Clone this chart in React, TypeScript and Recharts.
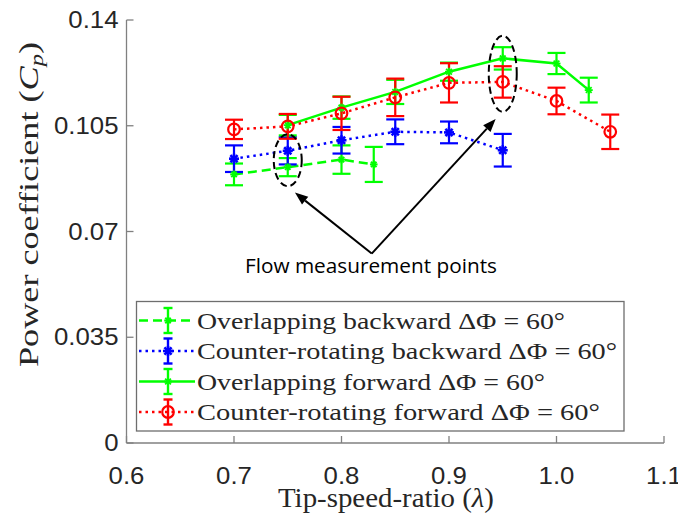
import React from "react";
import { LineChart, Line, XAxis, YAxis, ErrorBar, ReferenceDot, ReferenceLine, Customized } from "recharts";

// tip-speed-ratio / power coefficient / error
const lambdaOB = [0.7, 0.75, 0.8, 0.83];
const cpOB = [0.0889, 0.0913, 0.0938, 0.0922];
const errOB = [0.0036, 0.003, 0.0047, 0.0058];

const lambdaCB = [0.7, 0.75, 0.8, 0.85, 0.9, 0.95];
const cpCB = [0.0941, 0.0967, 0.1002, 0.103, 0.1028, 0.0969];
const errCB = [0.0044, 0.0045, 0.0044, 0.0041, 0.0036, 0.0054];

const lambdaOF = [0.75, 0.8, 0.85, 0.9, 0.95, 1.0, 1.03];
const cpOF = [0.1052, 0.111, 0.1162, 0.1229, 0.1273, 0.1256, 0.1168];
const errOF = [0.0034, 0.0037, 0.004, 0.003, 0.0037, 0.0035, 0.0041];

const lambdaCF = [0.7, 0.75, 0.8, 0.85, 0.9, 0.95, 1.0, 1.05];
const cpCF = [0.1038, 0.1048, 0.1091, 0.1144, 0.1192, 0.1195, 0.1132, 0.103];
const errCF = [0.0032, 0.0041, 0.0055, 0.0062, 0.0065, 0.0052, 0.0044, 0.0057];

const xTicks = [0.6, 0.7, 0.8, 0.9, 1.0, 1.1];
const yTicks = [0, 0.035, 0.07, 0.105, 0.14];

const seriesNames = [
  "Overlapping backward ΔΦ = 60°",
  "Counter-rotating backward ΔΦ = 60°",
  "Overlapping forward ΔΦ = 60°",
  "Counter-rotating forward ΔΦ = 60°",
];
const noteText = "Flow measurement points";

const toRows = (xs: number[], ys: number[], es: number[]) =>
  xs.map((x, i) => ({ x, y: ys[i], e: es[i] }));

const dataOB = toRows(lambdaOB, cpOB, errOB);
const dataCB = toRows(lambdaCB, cpCB, errCB);
const dataOF = toRows(lambdaOF, cpOF, errOF);
const dataCF = toRows(lambdaCF, cpCF, errCF);

const GREEN = "#00ff00";
const BLUE = "#0000ff";
const RED = "#ff0000";
const TEXT = "#262626";

const legendWidths = [368, 420, 348, 403];

const Star = ({ cx, cy, r, color, sw }: any) => {
  const d = r * 0.72;
  return (
    <g stroke={color} strokeWidth={sw}>
      <line x1={cx - r} y1={cy} x2={cx + r} y2={cy} />
      <line x1={cx} y1={cy - r} x2={cx} y2={cy + r} />
      <line x1={cx - d} y1={cy - d} x2={cx + d} y2={cy + d} />
      <line x1={cx - d} y1={cy + d} x2={cx + d} y2={cy - d} />
    </g>
  );
};

const Ring = ({ cx, cy }: any) => (
  <circle cx={cx} cy={cy} r={5.8} fill="none" stroke={RED} strokeWidth={2.2} />
);

const markers = [
  (p: any) => <Star {...p} r={3.8} color={GREEN} sw={2} />,
  (p: any) => <Star {...p} r={5} color={BLUE} sw={2.6} />,
  (p: any) => <Star {...p} r={4} color={GREEN} sw={1.8} />,
  (p: any) => <Ring {...p} />,
];
const colors = [GREEN, BLUE, GREEN, RED];
const dashes = ["9 5", "2.5 4", undefined, "2.5 4"];

const dotFor = (i: number) => (p: any) =>
  <g key={`m${i}-${p.index}`}>{markers[i]({ cx: p.cx, cy: p.cy })}</g>;

const textLen = (s: string, size: number) =>
  s.split("").reduce((a, c) => a + (c === "." ? 0.278 : 0.556), 0) * size * 1.12;

const YTick = (props: any) => {
  const s = String(props.payload.value);
  return (
    <text x={props.x - 13} y={props.y + 8} textAnchor="end" fontSize={23}
      fontFamily="Liberation Sans" fill={TEXT} textLength={textLen(s, 23)} lengthAdjust="spacingAndGlyphs">
      {s}
    </text>
  );
};

const XTick = (props: any) => {
  const s = props.payload.value.toFixed(1);
  return (
    <text x={props.x} y={props.y + 46} textAnchor="middle" fontSize={23}
      fontFamily="Liberation Sans" fill={TEXT} textLength={textLen(s, 23)} lengthAdjust="spacingAndGlyphs">
      {s}
    </text>
  );
};

const Arrow = (props: any) => {
  const { x1, y1, x2, y2 } = props;
  const a = Math.atan2(y2 - y1, x2 - x1);
  const L = 13, W = 5;
  const bx = x2 - L * Math.cos(a), by = y2 - L * Math.sin(a);
  const px = -Math.sin(a) * W, py = Math.cos(a) * W;
  return (
    <g>
      <line x1={x1} y1={y1} x2={bx} y2={by} stroke="#000" strokeWidth={2} />
      <polygon points={`${x2},${y2} ${bx + px},${by + py} ${bx - px},${by - py}`} fill="#000" />
    </g>
  );
};

const Oval = (ry: number) => (p: any) => (
  <ellipse cx={p.cx} cy={p.cy} rx={14} ry={ry} fill="none" stroke="#000" strokeWidth={2} strokeDasharray="7 4" />
);

const Note = (p: any) => (
  <text x={p.cx} y={p.cy} textAnchor="middle" fontSize={20} fontFamily="Open Sans" fill="#000"
    textLength={252} lengthAdjust="spacingAndGlyphs">
    {noteText}
  </text>
);

const Frame = () => {
  const rowY = (i: number) => 320.5 + i * 30.5;
  return (
    <g>
      <rect x={136.5} y={301.5} width={487.5} height={129.5} fill="#fff" stroke="#6e6e6e" strokeWidth={1.3} />
      {seriesNames.map((name, i) => {
        const cy = rowY(i);
        return (
          <g key={name}>
            <line x1={139} y1={cy} x2={195} y2={cy} stroke={colors[i]} strokeWidth={2.4} strokeDasharray={dashes[i]} />
            <g stroke={colors[i]} strokeWidth={2.4}>
              <line x1={168} y1={cy - 12.5} x2={168} y2={cy + 12.5} />
              <line x1={163.5} y1={cy - 12.5} x2={172.5} y2={cy - 12.5} />
              <line x1={163.5} y1={cy + 12.5} x2={172.5} y2={cy + 12.5} />
            </g>
            {markers[i]({ cx: 168, cy })}
            <text x={197} y={cy + 8} fontSize={24} fontFamily="Liberation Serif" fill={TEXT}
              textLength={legendWidths[i]} lengthAdjust="spacingAndGlyphs">
              {name}
            </text>
          </g>
        );
      })}
      <text x={38} y={204.5} transform="rotate(-90, 38, 204.5)" textAnchor="middle" fontSize={28}
        fontFamily="Liberation Serif" fill={TEXT} textLength={325} lengthAdjust="spacingAndGlyphs">
        Power coefficient (<tspan fontStyle="italic">C</tspan>
        <tspan fontStyle="italic" fontSize={19} dy={5}>p</tspan>
        <tspan dy={-5}>)</tspan>
      </text>
      <text x={386} y={506.5} textAnchor="middle" fontSize={27} fontFamily="Liberation Serif" fill={TEXT}
        textLength={216} lengthAdjust="spacingAndGlyphs">
        Tip-speed-ratio (<tspan fontStyle="italic">λ</tspan>)
      </text>
    </g>
  );
};

const series = [dataOB, dataCB, dataOF, dataCF];

export default function App() {
  return (
    <div style={{ position: "absolute", left: 0, top: 0, background: "#fff" }}>
      <LineChart width={678} height={515} margin={{ top: 20, right: 14, bottom: 12, left: 0 }}>
        <XAxis type="number" dataKey="x" domain={[0.6, 1.1]} ticks={xTicks} height={60}
          tick={<XTick />} tickSize={-7} stroke="#808080" strokeWidth={1.3} allowDuplicatedCategory={false} />
        <YAxis type="number" domain={[0, 0.14]} ticks={yTicks} width={126.5}
          tick={<YTick />} tickSize={-7} stroke="#808080" strokeWidth={1.3} />
        {series.map((d, i) => (
          <Line key={i} data={d} dataKey="y" type="linear" stroke={colors[i]} strokeWidth={2.5}
            strokeDasharray={dashes[i]} dot={dotFor(i)} activeDot={false} isAnimationActive={false}>
            <ErrorBar dataKey="e" direction="y" width={9} stroke={colors[i]} strokeWidth={2.2} />
          </Line>
        ))}
        <ReferenceDot x={0.75} y={0.0936} shape={Oval(26)} />
        <ReferenceDot x={0.95} y={0.1222} shape={Oval(38)} />
        <ReferenceLine segment={[{ x: 0.8281, y: 0.0627 }, { x: 0.7567, y: 0.0829 }]} shape={Arrow} />
        <ReferenceLine segment={[{ x: 0.8281, y: 0.0627 }, { x: 0.9434, y: 0.1072 }]} shape={Arrow} />
        <ReferenceDot x={0.8274} y={0.0563} shape={Note} />
        <Customized component={Frame} />
      </LineChart>
    </div>
  );
}
